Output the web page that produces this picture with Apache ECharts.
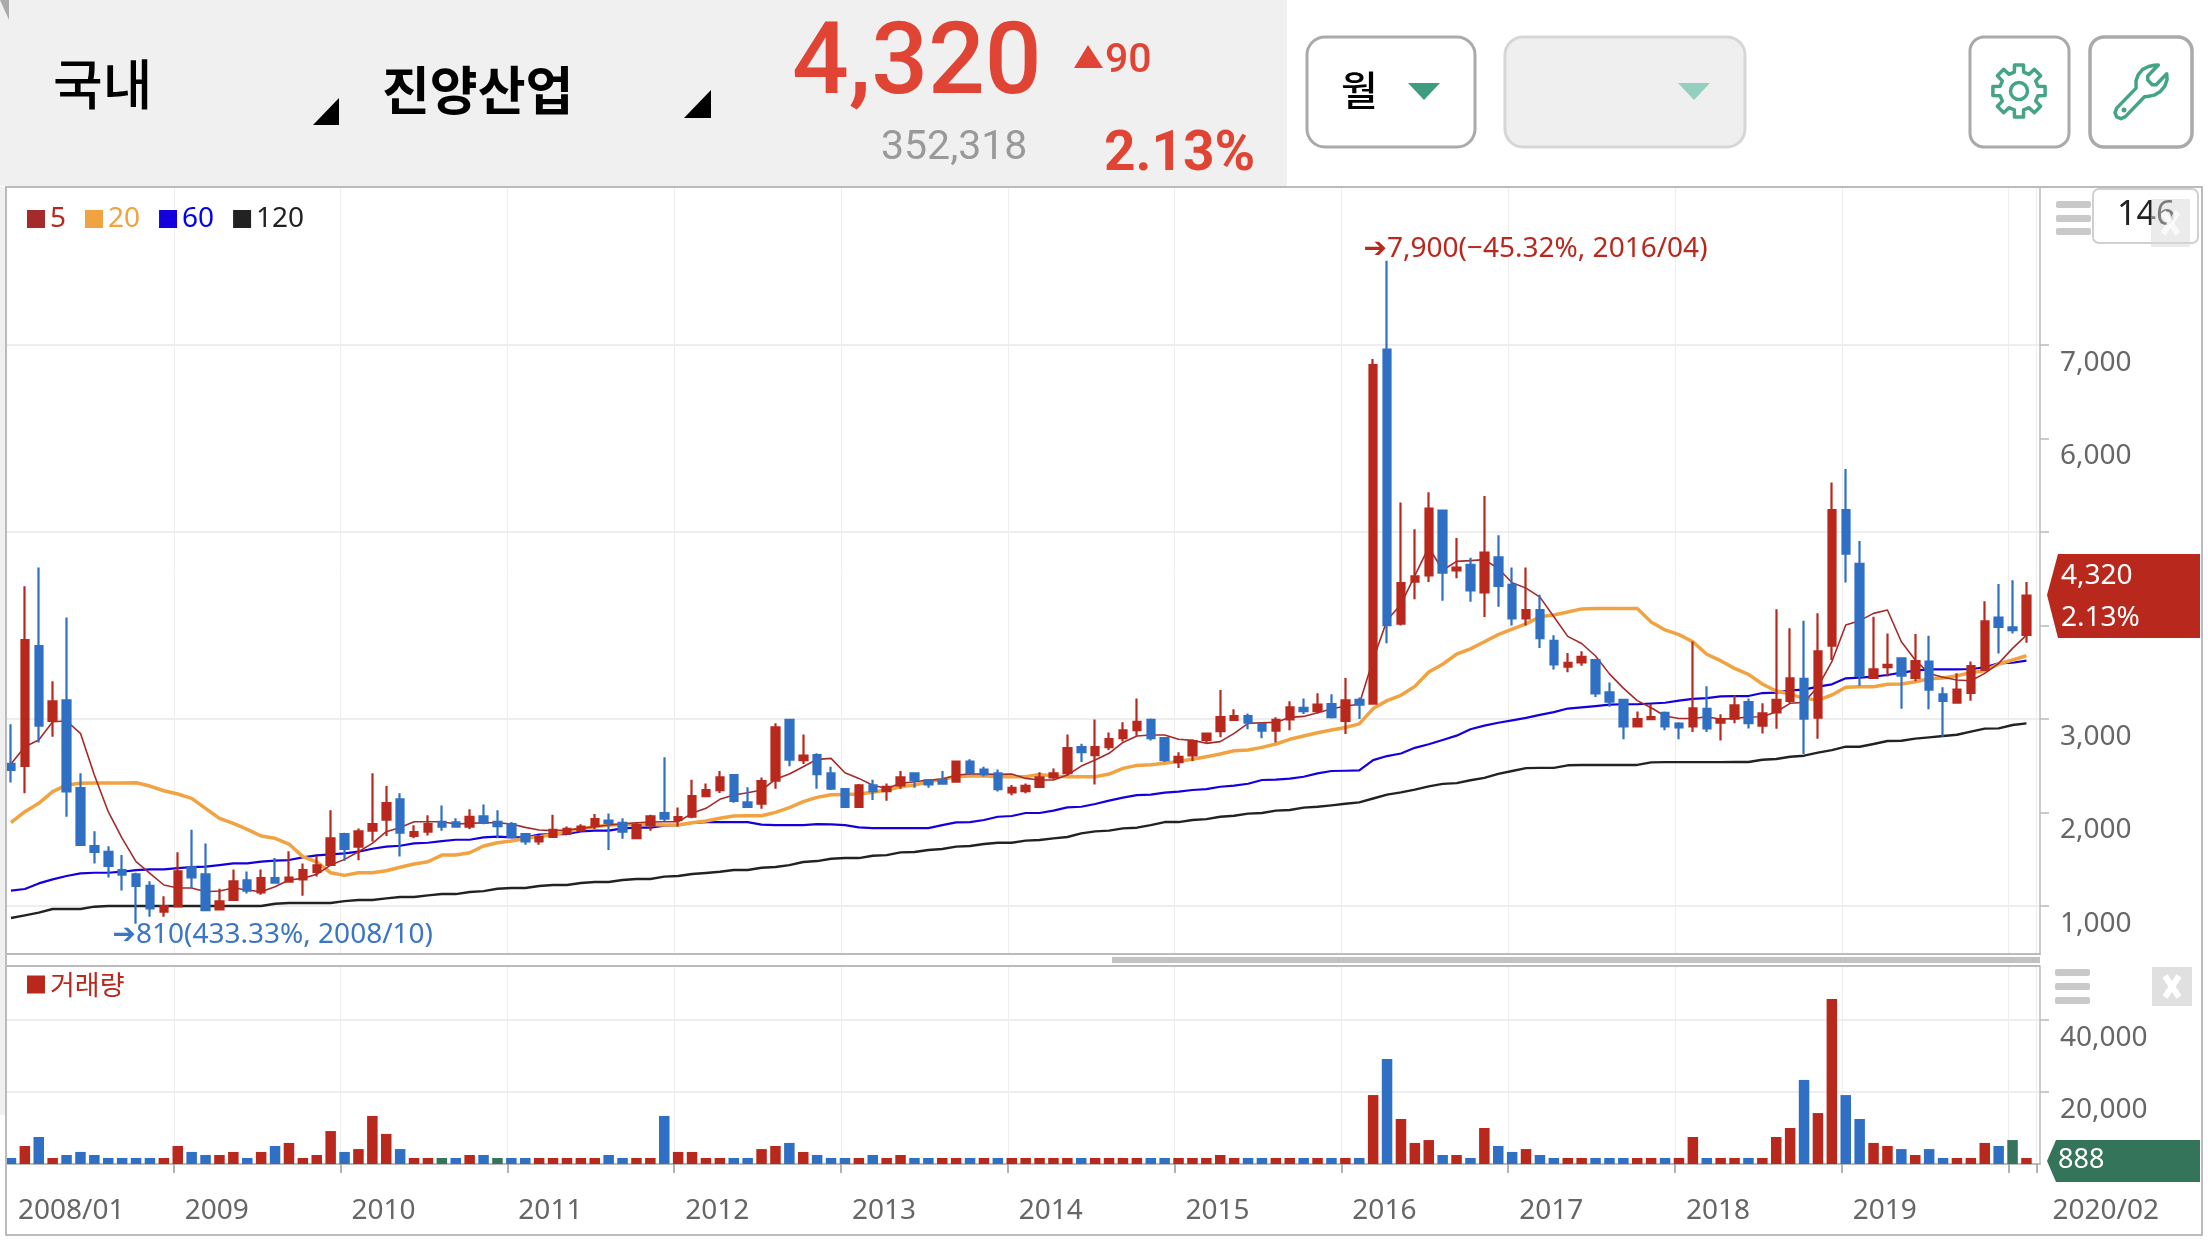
<!DOCTYPE html>
<html><head><meta charset="utf-8">
<style>html,body{margin:0;padding:0;background:#fff}#c{width:2208px;height:1242px}</style>
<script src="https://cdn.jsdelivr.net/npm/echarts@6/dist/echarts.min.js"></script>
</head><body><div id="c"></div>
<script>
const months = ["2008/01","2008/02","2008/03","2008/04","2008/05","2008/06","2008/07","2008/08","2008/09","2008/10","2008/11","2008/12",
"2009/01","2009/02","2009/03","2009/04","2009/05","2009/06","2009/07","2009/08","2009/09","2009/10","2009/11","2009/12",
"2010/01","2010/02","2010/03","2010/04","2010/05","2010/06","2010/07","2010/08","2010/09","2010/10","2010/11","2010/12",
"2011/01","2011/02","2011/03","2011/04","2011/05","2011/06","2011/07","2011/08","2011/09","2011/10","2011/11","2011/12",
"2012/01","2012/02","2012/03","2012/04","2012/05","2012/06","2012/07","2012/08","2012/09","2012/10","2012/11","2012/12",
"2013/01","2013/02","2013/03","2013/04","2013/05","2013/06","2013/07","2013/08","2013/09","2013/10","2013/11","2013/12",
"2014/01","2014/02","2014/03","2014/04","2014/05","2014/06","2014/07","2014/08","2014/09","2014/10","2014/11","2014/12",
"2015/01","2015/02","2015/03","2015/04","2015/05","2015/06","2015/07","2015/08","2015/09","2015/10","2015/11","2015/12",
"2016/01","2016/02","2016/03","2016/04","2016/05","2016/06","2016/07","2016/08","2016/09","2016/10","2016/11","2016/12",
"2017/01","2017/02","2017/03","2017/04","2017/05","2017/06","2017/07","2017/08","2017/09","2017/10","2017/11","2017/12",
"2018/01","2018/02","2018/03","2018/04","2018/05","2018/06","2018/07","2018/08","2018/09","2018/10","2018/11","2018/12",
"2019/01","2019/02","2019/03","2019/04","2019/05","2019/06","2019/07","2019/08","2019/09","2019/10","2019/11","2019/12",
"2020/01","2020/02"];
const opens = [2520,2500,3780,2980,3200,2260,1640,1580,1385,1340,1215,940,995,1415,1340,965,1065,1275,1145,1300,1260,1285,1365,1440,1770,1635,1805,1925,2140,1750,1795,1900,1895,1850,1960,1900,1875,1770,1690,1740,
1775,1810,1860,1915,1890,1725,1865,1995,1920,1955,2175,2240,2400,2110,2095,2340,2990,2560,2615,2420,2250,2060,2290,2230,2290,2420,2345,2350,2330,2545,
2460,2420,2215,2230,2275,2375,2420,2700,2615,2700,2795,2880,2990,2795,2540,2610,2775,2870,2990,3030,2945,2875,2995,3120,3085,3160,2980,3205,3165,6950,
4020,4470,4535,5230,4590,4650,4355,4730,4435,4075,4165,3835,3560,3605,3630,3285,3205,2920,3000,3065,2950,2920,3110,2960,3005,3180,2930,3070,3195,3430,
3015,3785,5235,4660,3440,3555,3650,3440,3615,3265,3175,3280,3525,4085,3980,3900];
const closes = [2455,3845,2930,3190,2225,1655,1580,1430,1335,1215,975,1000,1370,1305,955,1050,1265,1165,1300,1250,1305,1385,1435,1725,1610,1800,1875,2100,1785,1790,1875,1850,1850,1955,1890,1855,1740,1690,1740,1815,
1825,1850,1930,1890,1795,1865,1960,1935,1950,2175,2240,2375,2125,2060,2335,2910,2565,2610,2410,2255,2060,2290,2230,2275,2375,2350,2300,2310,2545,2420,
2410,2250,2265,2285,2375,2420,2690,2645,2700,2785,2880,2970,2795,2560,2595,2765,2845,3020,3030,2960,2875,2990,3125,3085,3155,3020,3200,3155,6785,4005,
4455,4525,5250,4565,4620,4375,4780,4425,4075,4165,3865,3585,3600,3665,3275,3185,2920,3000,3020,2920,2910,3115,2900,3000,3145,2955,3060,3205,3435,3005,
3725,5235,4770,3460,3530,3580,3465,3620,3315,3195,3315,3565,4045,3985,3950,4320];
const lows = [2320,2205,2750,2810,1955,1655,1455,1305,1165,810,885,885,995,1190,950,965,1055,1135,1120,1250,1260,1110,1315,1440,1485,1490,1690,1750,1530,1725,1755,1805,1850,1825,1875,1725,1735,1655,1655,1730,
1770,1795,1825,1600,1720,1725,1805,1910,1850,1940,2170,2210,2105,2050,2040,2255,2495,2520,2255,2240,2060,2060,2135,2125,2255,2265,2265,2310,2330,2420,
2385,2225,2185,2205,2270,2355,2400,2540,2300,2670,2760,2820,2770,2540,2475,2550,2745,2805,2980,2890,2795,2750,2880,3055,3060,3005,2840,3000,3165,3810,
4000,4280,4465,4265,4505,4255,4090,4200,4000,4000,3760,3530,3500,3570,3235,3130,2785,2910,3000,2880,2785,2860,2860,2770,2955,2900,2845,2895,3170,2625,
2790,3630,4460,3355,3440,3455,3110,3405,3105,2810,3170,3195,3525,3700,3915,3815];
const highs = [2945,4420,4620,3405,4085,2420,1800,1640,1545,1355,1265,1105,1575,1815,1670,1185,1390,1370,1390,1515,1585,1455,1535,2025,1785,1830,2420,2285,2205,1865,1970,2075,1940,2035,2085,2025,1900,1770,1760,1975,
1850,1875,1985,1990,1940,1900,1975,2590,2055,2350,2310,2445,2410,2270,2375,2955,2990,2835,2635,2490,2260,2305,2350,2310,2445,2420,2345,2445,2545,2570,
2490,2460,2295,2310,2430,2470,2835,2735,2995,2855,2965,3220,3005,2805,2645,2780,2845,3310,3105,3060,2960,3020,3190,3220,3275,3265,3440,3230,6850,7900,
5315,5030,5425,5235,4935,4725,5385,4965,4620,4620,4330,3895,3705,3725,3640,3390,3205,3080,3160,3080,2965,3830,3350,3050,3255,3220,3170,4175,3970,4050,
4130,5530,5675,4905,4095,3915,3650,3910,3890,3340,3490,3615,4260,4445,4485,4465];
const ma5 = [2519,2704,2775,2971,2979,2847,2401,2009,1724,1474,1349,1225,1193,1193,1153,1160,1193,1171,1153,1207,1278,1296,1339,1438,1499,1581,1670,1795,1841,1902,1902,1902,1877,1884,1891,1891,
1877,1841,1813,1806,1813,1831,1848,1866,1877,1891,1898,1902,1902,1991,2045,2141,2187,2212,2241,2355,2412,2490,2569,2579,2426,2365,2291,2258,2312,2330,2348,2355,2401,2412,2412,2408,
2412,2365,2348,2348,2401,2497,2561,2633,2750,2818,2829,2829,2783,2772,2740,2758,2847,2954,2961,2964,3018,3028,3068,3107,3140,3158,
3636,4056,4228,4534,4839,4591,4686,4694,4705,4610,4457,4400,4304,4094,3884,3808,3674,3483,3330,3197,3120,3032,3006,3006,3025,2998,3007,
3021,3025,3078,3168,3178,3346,3613,4005,4052,4130,4166,3827,3631,3488,3446,3417,3410,3488,3595,3756,3898];
const ma20 = [1891,2009,2098,2223,2294,2312,2316,2316,2316,2319,2283,2233,2198,2151,2045,1938,1884,1820,1749,1724,1663,1528,1471,1356,1328,1356,1356,1378,1414,1449,1474,1545,1545,1570,1642,1677,
1695,1724,1742,1766,1795,1827,1848,1866,1873,1877,1873,1866,1866,1891,1909,1938,1963,1966,1966,2002,2052,2116,2162,2191,2194,2198,2216,2241,2276,2294,2330,2355,2383,2390,2390,2383,
2383,2383,2408,2390,2383,2383,2383,2412,2472,2504,2512,2526,2547,2569,2597,2626,2661,2668,2697,2733,2783,2818,2854,2882,
2910,2948,3112,3197,3254,3349,3502,3586,3693,3750,3827,3903,3961,4018,4094,4113,4144,4178,4182,4182,4182,4182,4037,3953,3903,3827,3693,3624,
3542,3478,3374,3299,3267,3221,3203,3257,3339,3346,3346,3371,3374,3399,3431,3438,3463,3496,3517,3588,3631,3677];
const ma60 = [1164,1182,1242,1285,1321,1349,1356,1356,1367,1385,1392,1392,1406,1417,1421,1438,1456,1456,1474,1485,1492,1520,1542,1553,1563,1581,1613,1635,1645,1670,1677,1695,1709,1709,1734,1742,
1734,1734,1763,1770,1770,1799,1806,1806,1831,1838,1838,1859,1866,1888,1898,1898,1898,1898,1870,1866,1866,1866,1877,1873,1866,1841,1834,1834,1834,1834,1834,1866,1895,1898,1920,1955,
1963,1995,1995,2020,2055,2062,2091,2127,2159,2187,2191,2212,2223,2241,2251,2276,2287,2308,2348,2351,2362,2383,2419,2444,2447,2451,
2560,2604,2631,2692,2730,2776,2822,2891,2929,2960,2986,3013,3044,3074,3112,3124,3139,3154,3158,3158,3166,3174,3197,3216,3223,3242,3246,
3246,3278,3282,3307,3314,3346,3371,3435,3442,3453,3471,3496,3517,3531,3531,3531,3535,3553,3595,3602,3624];
const ma120 = [872,900,929,968,968,968,993,1000,1000,1000,1000,1000,1000,1000,1000,1000,1000,1000,1000,1025,1032,1032,1032,1032,1053,1064,1064,1082,1096,1096,1114,1128,1128,1150,1160,1185,
1193,1193,1214,1225,1225,1246,1257,1257,1278,1289,1289,1314,1321,1342,1353,1367,1385,1385,1410,1417,1438,1471,1481,1506,1513,1513,1538,1545,1574,1578,1599,1610,1635,1642,1663,1677,
1677,1699,1706,1724,1738,1777,1799,1806,1831,1838,1866,1898,1898,1920,1930,1955,1966,1988,1995,2020,2027,2052,2062,2077,2094,2109,
2150,2192,2215,2245,2280,2306,2314,2345,2371,2413,2444,2475,2478,2478,2505,2509,2509,2509,2509,2509,2536,2539,2539,2539,2539,2539,
2540,2540,2565,2572,2597,2608,2640,2668,2704,2704,2733,2765,2768,2790,2804,2818,2832,2865,2897,2900,2936,2954];
const volumes = [1650,5000,7500,1650,2500,3350,2500,1650,1650,1650,1650,1650,5000,3350,2500,2500,3350,1650,3350,5000,
5850,1650,2500,9150,3350,4150,13350,8350,4150,1650,1650,1650,1650,2500,2500,1650,1650,1650,1650,1650,
1650,1650,1650,2500,1650,1650,1650,13350,3350,3350,1650,1650,1650,1650,4150,5000,5850,3350,2500,1650,
1650,1650,2500,1650,2500,1650,1650,1650,1650,1650,1650,1650,1650,1650,1650,1650,1650,1650,1650,1650,
1650,1650,1650,1650,1650,1650,1650,2500,1650,1650,1650,1650,1650,1650,1650,1650,1650,1650,19150,29150,
12500,5850,6650,2500,2500,1650,10000,5000,3350,4150,2500,1650,1650,1650,1650,1650,1650,1650,1650,1650,
1650,7500,1650,1650,1650,1650,1650,7500,10000,23350,14150,45850,19150,12500,5850,5000,4150,2500,4150,1650,
1650,1650,5850,5000,6650,888];
const volumeDirs = ("brbrbbbbbb"+"brrbbrrbrb"+"rrrrbrrrbr"+"rgbrbgbbrr"+"rrrbbrrbrr"+"rrbbrrbrbb"+"brbrrbbrrb"+"rbrrrrrbrr"+"rrbbrrrrrb"+"brrbrbrbrb"+"rrrbrbrbbr"+"bbrrbbbrrb"+"rrbrrbrrrb"+"rrbbrrbrbb"+"rrrbgr").split("");
const priceTicks = [1000,2000,3000,4000,5000,6000,7000];
const priceLabels = [1000,2000,3000,6000,7000];
const priceGridLines = [1000,3000,5000,7000];
const volumeTicks = [20000,40000];
const tickLabels = ["2008/01","2009","2010","2011","2012","2013","2014","2015","2016","2017","2018","2019","2020/02"];
const highNote = "➔7,900(−45.32%, 2016/04)";
const lowNote = "➔810(433.33%, 2008/10)";

const RED="#b9281c",BLUE="#2f6fc4",GREEN="#33745a",ORANGE="#f0a340",MA60C="#1400dc",BLACK="#222222",MA5C="#a52a2a",TEAL="#45a488";
const FONT='"Noto Sans","Noto Sans CJK KR","DejaVu Sans",sans-serif', RB='Roboto,"Noto Sans",sans-serif', KR='"Noto Sans CJK KR",sans-serif';
const yMin=487,yMax=8690;
const isYear=(i)=>i>0&&i%12===0;
const axisFrameX=(g)=>({gridIndex:g,type:'value',min:0,max:1,position:'bottom',axisLine:{show:true,onZero:false,lineStyle:{color:'#bbbbbb',width:2}},axisTick:{show:false},axisLabel:{show:false},splitLine:{show:false}});
const axisDataX=(g,lines,extra)=>Object.assign({gridIndex:g,type:'category',data:months,boundaryGap:true,axisLine:{show:false},axisTick:{show:false},axisLabel:{show:false},
  splitLine:{show:lines,interval:(i)=>isYear(i),lineStyle:{color:'#eeeeee',width:1}}},extra||{});
const gridY=(g,min,max,vals)=>({gridIndex:g,type:'value',position:'right',min,max,axisLine:{show:false},axisTick:{show:false,customValues:vals},axisLabel:{show:false,customValues:vals},splitLine:{show:true,lineStyle:{color:'#e8e8e8',width:1.5}}});
const labelY=(g,min,max,ticks,labels)=>({gridIndex:g,type:'value',position:'right',min,max,axisLine:{show:true,onZero:false,lineStyle:{color:'#bbbbbb',width:1.5}},
  axisTick:{show:true,length:9,customValues:ticks,lineStyle:{color:'#bbbbbb',width:1.5}},
  axisLabel:{show:true,customValues:labels,margin:20,color:'#666666',fontSize:28,fontFamily:FONT,verticalAlign:'top',padding:[4,0,0,0],formatter:(v)=>Number(v).toLocaleString('en-US')},splitLine:{show:false}});
const hiddenY=(g,min,max)=>({gridIndex:g,type:'value',min,max,show:false,splitLine:{show:false}});

const txt=(text,x,y,size,color,weight,family,align)=>({type:'text',x,y,z:100,style:{text,fontSize:size,fill:color,fontWeight:weight||400,fontFamily:family||RB,textAlign:align||'left',textVerticalAlign:'middle'}});
const rect=(x,y,w,h,fill,stroke,lw,r,op)=>({type:'rect',z:100,shape:{x,y,width:w,height:h,r:r||0},style:{fill:fill||'transparent',stroke:stroke||null,lineWidth:lw||0,opacity:op==null?1:op}});
const poly=(pts,fill)=>({type:'polygon',z:100,shape:{points:pts},style:{fill}});
const line=(x1,y1,x2,y2,c,w)=>({type:'line',z:100,shape:{x1,y1,x2,y2},style:{stroke:c,lineWidth:w}});
const burger=(x,ys,h)=>ys.map(y=>rect(x,y,35,h,'#c9c9c9',null,0,2));
const gearPts=[];
for(let i=0;i<8;i++){const a=i*Math.PI/4-Math.PI/2;
  [[-0.24,19.5],[-0.17,26.5],[0.17,26.5],[0.24,19.5]].forEach(p=>gearPts.push([2019+p[1]*Math.cos(a+p[0]),91+p[1]*Math.sin(a+p[0])]));}
const wrenchShape=[[14.7,6.3],[14.7,7.7],[16.3,9.3],[17.7,9.3],[21.47,5.53],[21.6,7.5],[20.8,9.8],[19.2,11.6],[17,12.9],[15,13.3],[13.53,13.47],[6.62,20.38],[5.1,21],[3.6,20.4],[3,18.9],[3.62,17.38],[10.53,10.47],[10.5,8],[11.3,5.8],[12.9,4],[15,3],[17,2.6],[18.47,2.53]];
const wrenchPts=wrenchShape.map(p=>[2115+(p[0]-3)*2.8,65+(p[1]-2.5)*2.9]);

const graphics=[
  rect(0,0,1287,186,'#f0f0f0'),
  poly([[0,0],[9,0],[9,20]],'#aaaaaa'),
  rect(0,187,5,928,'#f0f0f0'),
  txt("국내",53,84,54,'#000',500,KR),
  poly([[339,98],[339,125],[313,125]],'#000'),
  txt("진양산업",382,90,52,'#000',700,KR),
  poly([[711,90],[711,118],[684,118]],'#000'),
  txt("4,320",792,68,100,'#e04434',500),
  poly([[1088,45],[1103,68],[1074,68]],'#e04434'),
  txt("90",1105,62,41,'#e04434',500),
  txt("352,318",881,149,41,'#999999',400),
  txt("2.13%",1104,156,55,'#e04434',700),
  rect(1307,37,168,110,'#fff','#aaaaaa',3,18),
  txt("월",1341,90,40,'#000',500,KR),
  poly([[1408,83],[1440,83],[1424,100]],'#3f9c80'),
  rect(1505,37,240,110,'#efefef','#d6d6d6',3,18),
  poly([[1678,83],[1710,83],[1694,100]],'#93d0c0'),
  rect(1970,37,99,110,'#fff','#aaaaaa',3,14),
  rect(2090,37,102,110,'#fff','#aaaaaa',3.5,14),
  {type:'polygon',z:100,shape:{points:gearPts},style:{fill:'transparent',stroke:TEAL,lineWidth:3.5,lineJoin:'round'}},
  {type:'circle',z:100,shape:{cx:2019,cy:91,r:8.5},style:{fill:'transparent',stroke:TEAL,lineWidth:3.5}},
  {type:'polygon',z:100,shape:{points:wrenchPts},style:{fill:'transparent',stroke:TEAL,lineWidth:3.5,lineJoin:'round'}},
  {type:'circle',z:100,shape:{cx:2124,cy:110,r:2.5},style:{fill:TEAL}},
  rect(6,187,2196,1048,'transparent','#bbbbbb',2),
  line(6,966,2040,966,'#bbbbbb',2),
  rect(1112,957,928,6,'#c2c2c2'),
  ...burger(2056,[201,215,228],7),
  rect(2093,189,105,54,'#fff','#d0d0d0',2,6),
  txt("146",2117,215,34,'#222',400,FONT),
  rect(2151,199,39,48,'#d8d8d8',null,0,0,.5),
  line(2163,212,2178,234,'rgba(255,255,255,.7)',6),line(2178,212,2163,234,'rgba(255,255,255,.7)',6),
  ...burger(2055,[969,983,997],7),
  rect(2152,967,40,39,'#e0e0e0'),
  line(2165,976,2179,997,'#ffffff',6),line(2179,976,2165,997,'#ffffff',6),
  poly([[2047,595],[2058,554],[2200,554],[2200,638],[2058,638]],RED),
  txt("4,320",2061,576,28,'#ffffff',400,FONT),
  txt("2.13%",2061,618,28,'#ffffff',400,FONT),
  poly([[2047,1161],[2056,1140],[2200,1140],[2200,1182],[2056,1182]],GREEN),
  txt("888",2058,1160,27,'#ffffff',400,FONT)
];

const maSeries=(name,data,color,width,z)=>({name,type:'line',xAxisIndex:1,yAxisIndex:2,data,symbol:'none',z,silent:true,
  itemStyle:{color},lineStyle:{color,width,join:'round'}});

const chart=echarts.init(document.getElementById('c'),null,{renderer:'canvas'});
chart.setOption({
  animation:false,backgroundColor:'#ffffff',
  grid:[
    {left:6,top:187,width:2034,height:767},
    {left:4,top:187,width:2029.4,height:767},
    {left:6,top:966,width:2034,height:198},
    {left:4,top:966,width:2029.4,height:198},
    {left:7,top:187,width:2029.4,height:767},
    {left:7,top:966,width:2029.4,height:198}
  ],
  legend:[
    {left:27,top:205,padding:0,orient:'horizontal',itemWidth:18,itemHeight:18,itemGap:19,icon:'rect',selectedMode:false,
     textStyle:{fontSize:28,fontFamily:FONT},
     data:[{name:'5',textStyle:{color:RED}},{name:'20',textStyle:{color:ORANGE}},{name:'60',textStyle:{color:'#0000ee'}},{name:'120',textStyle:{color:BLACK}}]},
    {left:27,top:971,padding:0,itemWidth:18,itemHeight:18,icon:'rect',selectedMode:false,
     textStyle:{fontSize:27,fontFamily:KR},
     data:[{name:'거래량',textStyle:{color:RED}}]}
  ],
  xAxis:[
    axisFrameX(0),axisDataX(1,false),axisFrameX(2),axisDataX(3,false),
    axisDataX(4,true),
    axisDataX(5,true,{position:'bottom',offset:18,
      axisTick:{show:true,length:9,interval:(i)=>isYear(i),lineStyle:{color:'#999999',width:1.5}},
      axisLabel:{show:true,interval:(i)=>i===0||i===months.length-1||(isYear(i)&&i<144),align:'left',margin:15,color:'#666666',fontSize:28,fontFamily:FONT,
        padding:[0,0,0,4],
        formatter:(v,i)=>{const k=i===months.length-1?tickLabels.length-1:i/12; return k===tickLabels.length-1?'{last|'+tickLabels[k]+'}':tickLabels[k];},
        rich:{last:{padding:[0,0,0,19],color:'#666666',fontSize:28,fontFamily:FONT}}}})
  ],
  yAxis:[
    gridY(0,yMin,yMax,priceGridLines),
    labelY(0,yMin,yMax,priceTicks,priceLabels),
    hiddenY(1,yMin,yMax),
    gridY(2,0,55000,volumeTicks),
    labelY(2,0,55000,volumeTicks,volumeTicks),
    hiddenY(3,0,55000),
    hiddenY(4,yMin,yMax),
    hiddenY(5,0,55000)
  ],
  series:[
    maSeries('120',ma120,BLACK,2.4,2),
    maSeries('60',ma60,MA60C,2.2,2),
    maSeries('20',ma20,ORANGE,3.5,2),
    maSeries('5',ma5,MA5C,1.6,2),
    {name:'candle',type:'candlestick',xAxisIndex:1,yAxisIndex:2,z:3,barWidth:8,silent:true,
     data:months.map((m,i)=>[opens[i],closes[i],lows[i],highs[i]]),
     itemStyle:{color:RED,color0:BLUE,borderColor:RED,borderColor0:BLUE,borderWidth:2.2},
     markPoint:{symbol:'rect',symbolSize:1,silent:true,itemStyle:{color:'transparent'},
       data:[
        {coord:[months[99],highs[99]],label:{show:true,position:'right',distance:0,offset:[-24,-12],formatter:highNote,color:RED,fontSize:28,fontFamily:FONT}},
        {coord:[months[9],lows[9]],label:{show:true,position:'right',distance:0,offset:[-24,11],formatter:lowNote,color:'#3a76c6',fontSize:28,fontFamily:FONT}}
       ]}},
    {name:'거래량',type:'bar',xAxisIndex:3,yAxisIndex:5,barWidth:10.5,barMinHeight:6,silent:true,itemStyle:{color:RED},
     data:volumes.map((v,i)=>({value:v,itemStyle:{color:volumeDirs[i]==='r'?RED:volumeDirs[i]==='b'?BLUE:GREEN}}))}
  ],
  graphic:{elements:graphics}
});
</script></body></html>
